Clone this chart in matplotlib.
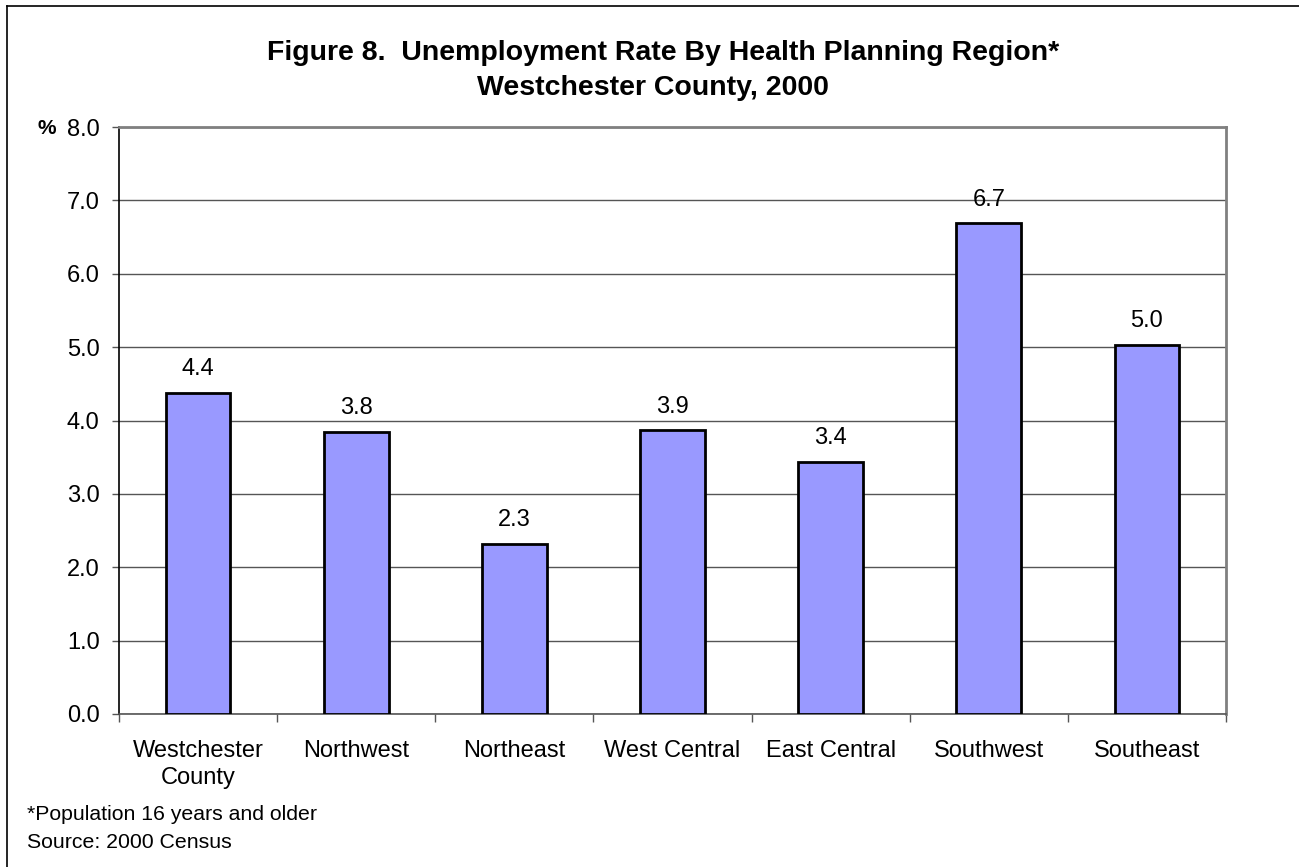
import matplotlib.pyplot as plt
import numpy as np

# data
regions = ["Westchester\nCounty", "Northwest", "Northeast", "West Central",
           "East Central", "Southwest", "Southeast"]
rates = [4.38, 3.85, 2.32, 3.87, 3.44, 6.69, 5.03]
rate_labels = ["4.4", "3.8", "2.3", "3.9", "3.4", "6.7", "5.0"]
yticks = [0, 1, 2, 3, 4, 5, 6, 7, 8]

plt.rcParams['font.family'] = ['Liberation Sans', 'DejaVu Sans']

W, H = 1299, 867
fig = plt.figure(figsize=(W / 100, H / 100), dpi=100)
ax = fig.add_axes([119 / W, (H - 714) / H, (1226 - 119) / W, (714 - 127) / H])

x = np.arange(len(regions))
ax.bar(x, rates, width=0.41, color="#9999FF", edgecolor="black", linewidth=2.0, zorder=3)

for xi, v, lab in zip(x, rates, rate_labels):
    ax.annotate(lab, (xi, v), xytext=(0, 9), textcoords="offset points",
                ha="center", va="bottom", fontsize=17)

ax.set_xlim(-0.5, len(regions) - 0.5)
ax.set_ylim(0, 8)
ax.set_yticks(yticks)
ax.set_yticklabels([f"{t:.1f}" for t in yticks], fontsize=17)
ax.yaxis.grid(True, color="#555555", linewidth=1.0, zorder=0)

ax.set_xticks(x)
ax.set_xticklabels(regions, fontsize=17, linespacing=1.28)
ax.tick_params(axis="x", which="major", length=0, pad=19)
ax.set_xticks(np.arange(len(regions) + 1) - 0.5, minor=True)
ax.tick_params(axis="x", which="minor", length=6, width=1, color="#555555", direction="out")
ax.tick_params(axis="y", length=5, width=1, color="#555555", pad=9)

ax.spines["left"].set_color("black")
ax.spines["bottom"].set_color("#555555")
ax.spines["left"].set_linewidth(1.2)
ax.spines["bottom"].set_linewidth(1.2)
ax.spines["top"].set_color("#808080")
ax.spines["right"].set_color("#808080")
ax.spines["top"].set_linewidth(2)
ax.spines["right"].set_linewidth(2)

fig.text(663 / W, 1 - 60 / H, "Figure 8.  Unemployment Rate By Health Planning Region*",
         ha="center", va="baseline", fontsize=20.5, fontweight="bold")
fig.text(653 / W, 1 - 95 / H, "Westchester County, 2000",
         ha="center", va="baseline", fontsize=20.5, fontweight="bold")
fig.text(47 / W, 1 - 128 / H, "%", ha="center", va="center", fontsize=15, fontweight="bold")

fig.text(27 / W, 1 - 814 / H, "*Population 16 years and older", ha="left", va="center", fontsize=15.3)
fig.text(27 / W, 1 - 842 / H, "Source: 2000 Census", ha="left", va="center", fontsize=15.3)

# outer border (left and top edges)
fig.add_artist(plt.Line2D([7 / W, 7 / W], [0, 1 - 6 / H], color="black", linewidth=1.2))
fig.add_artist(plt.Line2D([7 / W, 1], [1 - 6 / H, 1 - 6 / H], color="black", linewidth=1.2))

fig.savefig("out.png", dpi=100)
